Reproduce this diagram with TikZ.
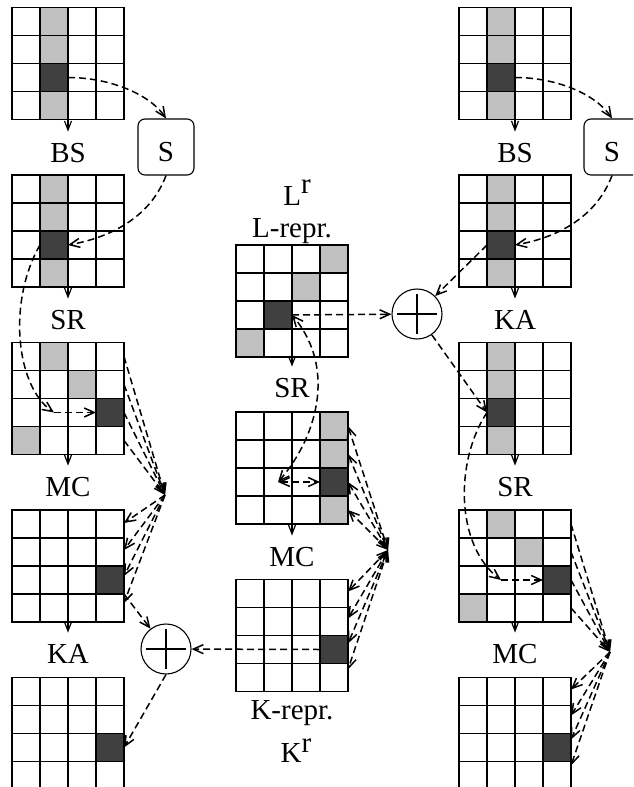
\documentclass[tikz,border=0pt]{standalone}
\usepackage{fontspec}
\setmainfont{Liberation Serif}
\usetikzlibrary{arrows.meta,calc}
\definecolor{darkcell}{RGB}{64,64,64}
\definecolor{lightcell}{RGB}{192,192,192}
\tikzset{
 gridbox/.style={draw, line width=1.3pt, minimum size=112pt, inner sep=0pt, outer sep=0pt, anchor=north west},
 cellbox/.style={minimum size=28pt, inner sep=0pt, outer sep=0pt, anchor=north west},
 dk/.style={cellbox, fill=darkcell},
 lt/.style={cellbox, fill=lightcell},
 wt/.style={cellbox},
 gline/.style={line width=1.2pt},
 lab/.style={inner sep=0pt, anchor=base, font=\fontsize{29}{34}\selectfont},
 sbox/.style={draw, line width=1.1pt, rounded corners=7pt, minimum size=56pt, inner sep=0pt, text height=29pt, text depth=0pt, font=\fontsize{29}{34}\selectfont},
 oplus/.style={draw, circle, line width=1.1pt, minimum size=50pt, inner sep=0pt},
 downar/.style={line width=1.2pt, -{Straight Barb[length=9pt,width=7pt]}, shorten >=11pt},
 dar/.style={line width=1.5pt, dash pattern=on 7pt off 4pt, -{Straight Barb[length=10pt,width=9pt]}},
 ddar/.style={line width=1.5pt, dash pattern=on 7pt off 4pt, {Straight Barb[length=10pt,width=9pt]}-{Straight Barb[length=10pt,width=9pt]}},
}
\newcommand{\gridlines}[3]{%
  \node[gridbox] (#1) at (#2,#3) {};
  \foreach \k in {1,2,3}{
    \draw[gline] (#2+28*\k,#3) -- (#2+28*\k,#3+112);
    \draw[gline] (#2,#3+28*\k) -- (#2+112,#3+28*\k);
  }
}
\newcommand{\cellat}[6]{%
  \node[#2] (#1) at (#3+28*#5,#4+28*#6) {};
}
\begin{document}
\begin{tikzpicture}[x=1pt,y=-1pt]
\clip (0,0) rectangle (633,787);
% ---------- left column ----------
\cellat{L1a}{lt}{12}{7.5}{1}{0}
\cellat{L1b}{lt}{12}{7.5}{1}{1}
\cellat{L1d}{dk}{12}{7.5}{1}{2}
\cellat{L1c}{lt}{12}{7.5}{1}{3}
\gridlines{L1}{12}{7.5}
\cellat{L2a}{lt}{12}{175}{1}{0}
\cellat{L2b}{lt}{12}{175}{1}{1}
\cellat{L2d}{dk}{12}{175}{1}{2}
\cellat{L2c}{lt}{12}{175}{1}{3}
\gridlines{L2}{12}{175}
\cellat{L3a}{lt}{12}{342.5}{1}{0}
\cellat{L3b}{lt}{12}{342.5}{2}{1}
\cellat{L3d}{dk}{12}{342.5}{3}{2}
\cellat{L3c}{lt}{12}{342.5}{0}{3}
\cellat{L3m}{wt}{12}{342.5}{1}{2}
\gridlines{L3}{12}{342.5}
\cellat{L4d}{dk}{12}{510}{3}{2}
\gridlines{L4}{12}{510}
\cellat{L5d}{dk}{12}{677.5}{3}{2}
\gridlines{L5}{12}{677.5}
% ---------- centre column ----------
\cellat{C1a}{lt}{236}{245}{3}{0}
\cellat{C1b}{lt}{236}{245}{2}{1}
\cellat{C1d}{dk}{236}{245}{1}{2}
\cellat{C1c}{lt}{236}{245}{0}{3}
\gridlines{C1}{236}{245}
\cellat{C2a}{lt}{236}{412}{3}{0}
\cellat{C2b}{lt}{236}{412}{3}{1}
\cellat{C2d}{dk}{236}{412}{3}{2}
\cellat{C2c}{lt}{236}{412}{3}{3}
\cellat{C2m}{wt}{236}{412}{1}{2}
\gridlines{C2}{236}{412}
\cellat{C3d}{dk}{236}{579.5}{3}{2}
\gridlines{C3}{236}{579.5}
% ---------- right column ----------
\cellat{R1a}{lt}{459}{7.5}{1}{0}
\cellat{R1b}{lt}{459}{7.5}{1}{1}
\cellat{R1d}{dk}{459}{7.5}{1}{2}
\cellat{R1c}{lt}{459}{7.5}{1}{3}
\gridlines{R1}{459}{7.5}
\cellat{R2a}{lt}{459}{175}{1}{0}
\cellat{R2b}{lt}{459}{175}{1}{1}
\cellat{R2d}{dk}{459}{175}{1}{2}
\cellat{R2c}{lt}{459}{175}{1}{3}
\gridlines{R2}{459}{175}
\cellat{R3a}{lt}{459}{342.5}{1}{0}
\cellat{R3b}{lt}{459}{342.5}{1}{1}
\cellat{R3d}{dk}{459}{342.5}{1}{2}
\cellat{R3c}{lt}{459}{342.5}{1}{3}
\gridlines{R3}{459}{342.5}
\cellat{R4a}{lt}{459}{510}{1}{0}
\cellat{R4b}{lt}{459}{510}{2}{1}
\cellat{R4d}{dk}{459}{510}{3}{2}
\cellat{R4c}{lt}{459}{510}{0}{3}
\cellat{R4m}{wt}{459}{510}{1}{2}
\gridlines{R4}{459}{510}
\cellat{R5d}{dk}{459}{677.5}{3}{2}
\gridlines{R5}{459}{677.5}
% ---------- labels ----------
\node[lab] (tBSL) at (68,162) {BS};
\node[lab] (tSRL) at (68,329) {SR};
\node[lab] (tMCL) at (68,496) {MC};
\node[lab] (tKAL) at (68,663) {KA};
\node[lab] (tBSR) at (515,162) {BS};
\node[lab] (tKAR) at (515,329) {KA};
\node[lab] (tSRR) at (515,496) {SR};
\node[lab] (tMCR) at (515,663) {MC};
\node[lab] (tLr) at (297,205) {L\raisebox{12pt}{r}};
\node[lab] (tLrep) at (292,237) {L-repr.};
\node[lab] (tSRC) at (292,397) {SR};
\node[lab] (tMCC) at (292,566) {MC};
\node[lab] (tKrep) at (292,719) {K-repr.};
\node[lab] (tKr) at (296,762) {K\raisebox{10pt}{r}};
% ---------- S boxes and XOR circles ----------
\node[sbox] (SboxL) at (166,147) {S};
\node[sbox] (SboxR) at (612,147) {S};
\node[oplus] (CL) at (166,649) {};
\node[oplus] (CR) at (417,314) {};
\draw[line width=1.1pt] ($(CL)+(-20,0)$) -- ($(CL)+(20,0)$);
\draw[line width=1.1pt] ($(CL)+(0,-20)$) -- ($(CL)+(0,20)$);
\draw[line width=1.1pt] ($(CR)+(-20,0)$) -- ($(CR)+(20,0)$);
\draw[line width=1.1pt] ($(CR)+(0,-20)$) -- ($(CR)+(0,20)$);
\coordinate (FL) at (165,495);
\coordinate (FC) at (388,550);
\coordinate (FR) at (610,652);
% ---------- step arrows ----------
\draw[downar] (L1.south) -- (tBSL.north);
\draw[downar] (L2.south) -- (tSRL.north);
\draw[downar] (L3.south) -- (tMCL.north);
\draw[downar] (L4.south) -- (tKAL.north);
\draw[downar] (R1.south) -- (tBSR.north);
\draw[downar] (R2.south) -- (tKAR.north);
\draw[downar] (R3.south) -- (tSRR.north);
\draw[downar] (R4.south) -- (tMCR.north);
\draw[downar] (C1.south) -- (tSRC.north);
\draw[downar] (C2.south) -- (tMCC.north);
% ---------- left dashed flow ----------
\draw[dar] (L1d.east) .. controls +(42,0) and +(-16,-24) .. (SboxL.north);
\draw[dar] (SboxL.south) .. controls +(-15,40) and +(45,-8) .. (L2d.east);
\draw[dar] (L2d.west) .. controls +(-32,55) and +(-39,-27) .. (L3m.center);
\draw[dar] (L3m.center) -- (L3d.west);
\foreach \o in {14,42,70,98} \draw[dar] ($(L3.north east)+(0,\o)$) -- (FL);
\foreach \o in {13,40,66,93} \draw[dar] (FL) -- ($(L4.north east)+(0,\o)$);
\draw[dar] (L4d.south east) -- (CL);
\draw[dar] (C3d.west) -- (CL);
\draw[dar] (CL.south) -- (L5d.east);
% ---------- centre dashed flow ----------
\draw[dar] (C1d.east) -- (CR);
\draw[ddar] (C2m.center) .. controls +(37,-42) and +(46,55) .. (C1d.east);
\draw[ddar] (C2m.center) -- (C2d.west);
\foreach \o in {14,42,70,98} \draw[ddar] ($(C2.north east)+(0,\o)$) -- (FC);
\foreach \o in {12,39,64,90} \draw[ddar] (FC) -- ($(C3.north east)+(0,\o)$);
% ---------- right dashed flow ----------
\draw[dar] (R1d.east) .. controls +(42,0) and +(-16,-24) .. (SboxR.north);
\draw[dar] (SboxR.south) .. controls +(-15,40) and +(45,-8) .. (R2d.east);
\draw[dar] (R2d.west) -- (CR);
\draw[dar] (CR) -- (R3d.west);
\draw[dar] (R3d.west) .. controls +(-32,48) and +(-46,-35) .. (R4m.center);
\draw[dar] (R4m.center) -- (R4d.west);
\foreach \o in {14,42,70,98} \draw[dar] ($(R4.north east)+(0,\o)$) -- (FR);
\foreach \o in {12,38,62,88} \draw[dar] (FR) -- ($(R5.north east)+(0,\o)$);
\end{tikzpicture}
\end{document}
